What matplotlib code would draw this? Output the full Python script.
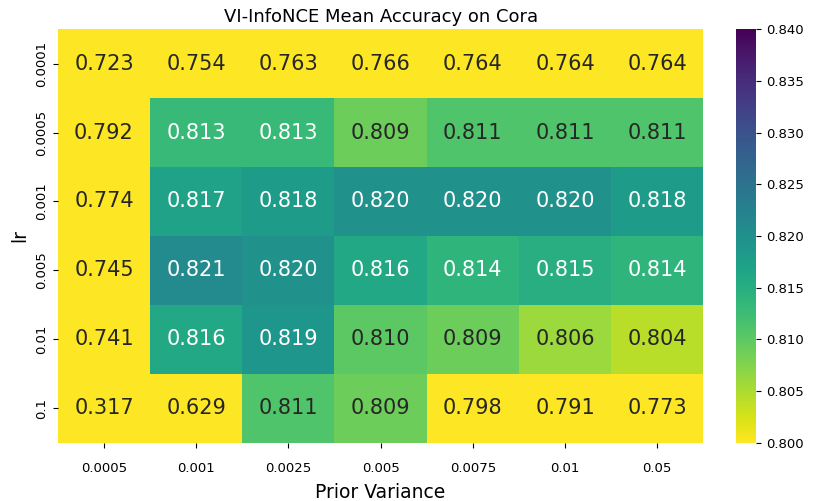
import numpy as np
import pandas as pd
import seaborn as sns
import matplotlib
matplotlib.use('Agg')
from matplotlib import pyplot as plt

# Grid of hyperparameters and mean accuracies
lrs = ['0.0001', '0.0005', '0.001', '0.005', '0.01', '0.1']
variances = ['0.0005', '0.001', '0.0025', '0.005', '0.0075', '0.01', '0.05']
acc = [
    [0.723, 0.754, 0.763, 0.766, 0.764, 0.764, 0.764],
    [0.792, 0.813, 0.813, 0.809, 0.811, 0.811, 0.811],
    [0.774, 0.817, 0.818, 0.820, 0.820, 0.820, 0.818],
    [0.745, 0.821, 0.820, 0.816, 0.814, 0.815, 0.814],
    [0.741, 0.816, 0.819, 0.810, 0.809, 0.806, 0.8043],
    [0.317, 0.629, 0.811, 0.809, 0.798, 0.791, 0.773],
]

df = pd.DataFrame(acc, index=lrs, columns=variances)

fig = plt.figure(figsize=(8.15, 5.01), dpi=100)
ax = fig.add_axes([0.071, 0.116, 0.792, 0.826])
cax = fig.add_axes([0.903, 0.116, 0.025, 0.826])
sns.heatmap(df, annot=True, fmt='.3f', cmap='viridis_r', vmin=0.80, vmax=0.84,
            ax=ax, cbar_ax=cax, annot_kws={'size': 15})
ax.set_title('VI-InfoNCE Mean Accuracy on Cora', fontsize=13, pad=5)
ax.set_xlabel('Prior Variance', fontsize=13.5, labelpad=6)
ax.set_ylabel('lr', fontsize=13.5)
ax.tick_params(axis='x', labelsize=9.5, pad=10)
ax.tick_params(axis='y', labelsize=9.5)
cax.tick_params(labelsize=9.5)
cax.set_yticks([0.800, 0.805, 0.810, 0.815, 0.820, 0.825, 0.830, 0.835, 0.840])
cax.set_yticklabels(['%.3f' % v for v in cax.get_yticks()])
plt.savefig('out.png', dpi=100)
